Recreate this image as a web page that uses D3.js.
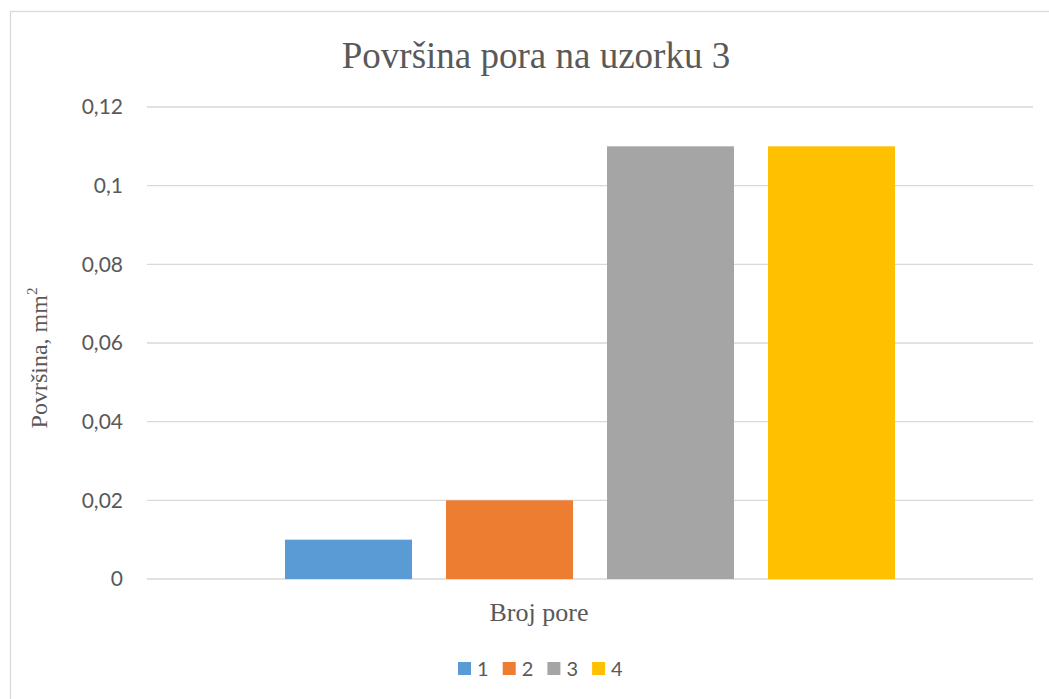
<!DOCTYPE html>
<html>
<head>
<meta charset="utf-8">
<script src="https://cdn.jsdelivr.net/npm/d3@7"></script>
<style>
  html, body { margin: 0; padding: 0; background: #fff; }
  svg { display: block; }
</style>
</head>
<body>
<svg id="chart" width="1049" height="699"></svg>
<script>
// Pore surface areas for sample 3
const series = ["1", "2", "3", "4"];
const values = [0.01, 0.02, 0.11, 0.11];
const colors = ["#5b9bd5", "#ed7d31", "#a5a5a5", "#ffc000"];
const yTicks = [0, 0.02, 0.04, 0.06, 0.08, 0.1, 0.12];
const category = "Broj pore";

const svg = d3.select("#chart");
const plot = { left: 147, right: 1033, top: 107, bottom: 579 };
const serif = "'Liberation Serif', 'Times New Roman', serif";
const sans = "Lato, 'Open Sans', sans-serif";

// outer frame
svg.append("rect")
  .attr("x", 10.5).attr("y", 11.5)
  .attr("width", 1200).attr("height", 1000)
  .attr("fill", "#fff").attr("stroke", "#d9d9d9").attr("stroke-width", 1.3);

const y = d3.scaleLinear().domain([0, 0.12]).range([plot.bottom, plot.top]);
const x = d3.scaleBand().domain(series)
  .range([plot.left + 138, plot.right - 138])
  .paddingInner(34 / 161).paddingOuter(0);

// gridlines
svg.append("g").selectAll("line").data(yTicks).join("line")
  .attr("x1", plot.left).attr("x2", plot.right)
  .attr("y1", d => y(d)).attr("y2", d => y(d))
  .attr("stroke", "#d9d9d9").attr("stroke-width", 1.3);

// y-axis labels
const yAxis = d3.axisLeft(y).tickValues(yTicks)
  .tickFormat(d => String(+d.toFixed(2)).replace(".", ","))
  .tickSize(0).tickPadding(0);
const ga = svg.append("g").attr("transform", `translate(${plot.left - 24},0)`).call(yAxis);
ga.select(".domain").remove();
ga.selectAll("text")
  .attr("font-family", sans)
  .attr("font-size", 21).attr("fill", "#595959");

// bars
svg.append("g").selectAll("rect").data(values).join("rect")
  .attr("x", (d, i) => x(series[i]))
  .attr("y", d => y(d))
  .attr("width", x.bandwidth())
  .attr("height", d => y(0) - y(d))
  .attr("fill", (d, i) => colors[i]);

// title
svg.append("text")
  .attr("x", 536).attr("y", 68)
  .attr("text-anchor", "middle")
  .attr("font-family", serif)
  .attr("font-size", 37).attr("fill", "#595959")
  .text("Površina pora na uzorku 3");

// y-axis title
const yt = svg.append("text")
  .attr("transform", `translate(47,358) rotate(-90)`)
  .attr("text-anchor", "middle")
  .attr("font-family", serif)
  .attr("font-size", 24).attr("fill", "#595959");
yt.append("tspan").text("Površina, mm");
yt.append("tspan").attr("font-size", 15).attr("dy", -10).text("2");

// x-axis title
svg.append("text")
  .attr("x", 539).attr("y", 621)
  .attr("text-anchor", "middle")
  .attr("font-family", serif)
  .attr("font-size", 26).attr("fill", "#595959")
  .text(category);

// legend
const lg = svg.append("g").selectAll("g").data(series).join("g")
  .attr("transform", (d, i) => `translate(${458 + i * 44.7},662)`);
lg.append("rect").attr("width", 13).attr("height", 13)
  .attr("fill", (d, i) => colors[i]);
lg.append("text").attr("x", 19).attr("y", 13.5)
  .attr("font-family", sans)
  .attr("font-size", 20).attr("fill", "#595959")
  .text(d => d);
</script>
</body>
</html>
